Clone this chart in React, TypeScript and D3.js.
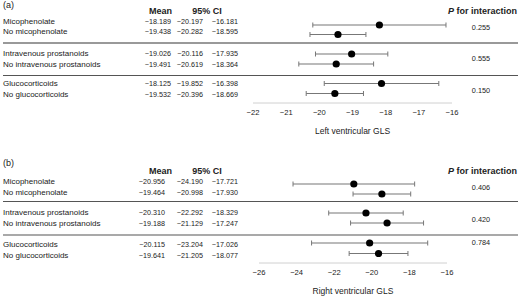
import React from "react";
import * as d3 from "d3";

const labels = [
  "Micophenolate",
  "No micophenolate",
  "Intravenous prostanoids",
  "No intravenous prostanoids",
  "Glucocorticoids",
  "No glucocorticoids",
];

const lvMean = [-18.189, -19.438, -19.026, -19.491, -18.125, -19.532];
const lvLow = [-20.197, -20.282, -20.116, -20.619, -19.852, -20.396];
const lvHigh = [-16.181, -18.595, -17.935, -18.364, -16.398, -18.669];
const lvP = ["0.255", "0.555", "0.150"];
const lvTicks = [-22, -21, -20, -19, -18, -17, -16];

const rvMean = [-20.956, -19.464, -20.31, -19.188, -20.115, -19.641];
const rvLow = [-24.19, -20.998, -22.292, -21.129, -23.204, -21.205];
const rvHigh = [-17.721, -17.93, -18.329, -17.247, -17.026, -18.077];
const rvP = ["0.406", "0.420", "0.784"];
const rvTicks = [-26, -24, -22, -20, -18, -16];

const FONT = "'Liberation Sans', Arial, Helvetica, sans-serif";
const fmt = (v: number) => {
  const s = d3.format(".3f")(Math.abs(v));
  return (v < 0 ? "\u2212" : "") + s;
};

type PanelProps = {
  tag: string;
  oy: number;
  mean: number[];
  low: number[];
  high: number[];
  p: string[];
  ticks: number[];
  domain: [number, number];
  range: [number, number];
  title: string;
  textY: number[];
  dotY: number[];
  pY: number[];
  sepY: number[];
  sepStyle: { stroke: string; w: number }[];
  axisY: number;
  meanX: number;
  headerY: number;
  tagY: number;
};

function Panel(props: PanelProps) {
  const {
    tag, oy, mean, low, high, p, ticks, domain, range, title,
    textY, dotY, pY, sepY, sepStyle, axisY, meanX, headerY, tagY,
  } = props;
  const x = d3.scaleLinear().domain(domain).range(range);
  const txt = "#222";
  return (
    <g transform={`translate(0,${oy})`} fontFamily={FONT}>
      <text x={3} y={tagY} fontSize={9} fill={txt} dominantBaseline="central">{tag}</text>
      <text x={172} y={headerY} fontSize={9} fontWeight="bold" fill={txt} textAnchor="end" dominantBaseline="central">Mean</text>
      <text x={207} y={headerY} fontSize={9} fontWeight="bold" fill={txt} textAnchor="middle" dominantBaseline="central">95% CI</text>
      <text x={517} y={headerY} fontSize={9} fontWeight="bold" fill={txt} textAnchor="end" dominantBaseline="central">
        <tspan fontStyle="italic">P</tspan> for interaction
      </text>
      {labels.map((l, i) => (
        <g key={l}>
          <text x={3} y={textY[i]} fontSize={8} fill={txt} dominantBaseline="central">{l}</text>
          <text x={meanX} y={textY[i]} fontSize={7.2} fill={txt} textAnchor="end" dominantBaseline="central">{fmt(mean[i])}</text>
          <text x={203} y={textY[i]} fontSize={7.2} fill={txt} textAnchor="end" dominantBaseline="central">{fmt(low[i])}</text>
          <text x={238} y={textY[i]} fontSize={7.2} fill={txt} textAnchor="end" dominantBaseline="central">{fmt(high[i])}</text>
        </g>
      ))}
      {sepY.map((y, i) => (
        <line key={i} x1={3} x2={518} y1={y} y2={y} stroke={sepStyle[i].stroke} strokeWidth={sepStyle[i].w} />
      ))}
      {p.map((v, i) => (
        <text key={i} x={481} y={pY[i]} fontSize={7.3} fill={txt} textAnchor="middle" dominantBaseline="central">{v}</text>
      ))}
      {mean.map((m, i) => (
        <g key={i}>
          <line x1={x(low[i])} x2={x(high[i])} y1={dotY[i]} y2={dotY[i]} stroke="#777" strokeWidth={1.2} />
          <line x1={x(low[i])} x2={x(low[i])} y1={dotY[i] - 2.5} y2={dotY[i] + 2.5} stroke="#777" strokeWidth={1} />
          <line x1={x(high[i])} x2={x(high[i])} y1={dotY[i] - 2.5} y2={dotY[i] + 2.5} stroke="#777" strokeWidth={1} />
          <circle cx={x(m)} cy={dotY[i]} r={3.6} fill="#000" />
        </g>
      ))}
      <line x1={range[0]} x2={range[1]} y1={axisY} y2={axisY} stroke="#d0d0d0" strokeWidth={1} />
      {ticks.map((t) => (
        <text key={t} x={x(t)} y={axisY + 9.5} fontSize={7.6} fill={txt} textAnchor="middle" dominantBaseline="central">
          {"\u2212" + Math.abs(t)}
        </text>
      ))}
      <text x={(range[0] + range[1]) / 2} y={axisY + 28} fontSize={8.5} fill={txt} textAnchor="middle" dominantBaseline="central">
        {title}
      </text>
    </g>
  );
}

export default function App() {
  return (
    <svg
      width={520}
      height={296}
      style={{ position: "absolute", left: 0, top: 0, background: "#fff" }}
    >
      <rect width={520} height={296} fill="#fff" />
      <Panel
        tag="(a)"
        oy={0}
        mean={lvMean}
        low={lvLow}
        high={lvHigh}
        p={lvP}
        ticks={lvTicks}
        domain={[-22, -16]}
        range={[253, 452]}
        title="Left ventricular GLS"
        textY={[21, 31.5, 53.5, 64, 83.5, 94.5]}
        dotY={[25, 34.5, 54, 64, 83.5, 93.5]}
        pY={[27, 58, 90]}
        sepY={[43, 75.5]}
        sepStyle={[{ stroke: "#999", w: 2 }, { stroke: "#555", w: 1.2 }]}
        axisY={103}
        meanX={171}
        headerY={10.5}
        tagY={5}
      />
      <Panel
        tag="(b)"
        oy={0}
        mean={rvMean}
        low={rvLow}
        high={rvHigh}
        p={rvP}
        ticks={rvTicks}
        domain={[-26, -16]}
        range={[259, 447]}
        title="Right ventricular GLS"
        textY={[181.5, 192, 212.5, 223.5, 244.5, 255.5]}
        dotY={[184, 194, 213, 223, 243, 253.5]}
        pY={[187, 219, 242]}
        sepY={[201.5, 235]}
        sepStyle={[{ stroke: "#555", w: 1.2 }, { stroke: "#555", w: 1.2 }]}
        axisY={263}
        meanX={165}
        headerY={171}
        tagY={163}
      />
    </svg>
  );
}
